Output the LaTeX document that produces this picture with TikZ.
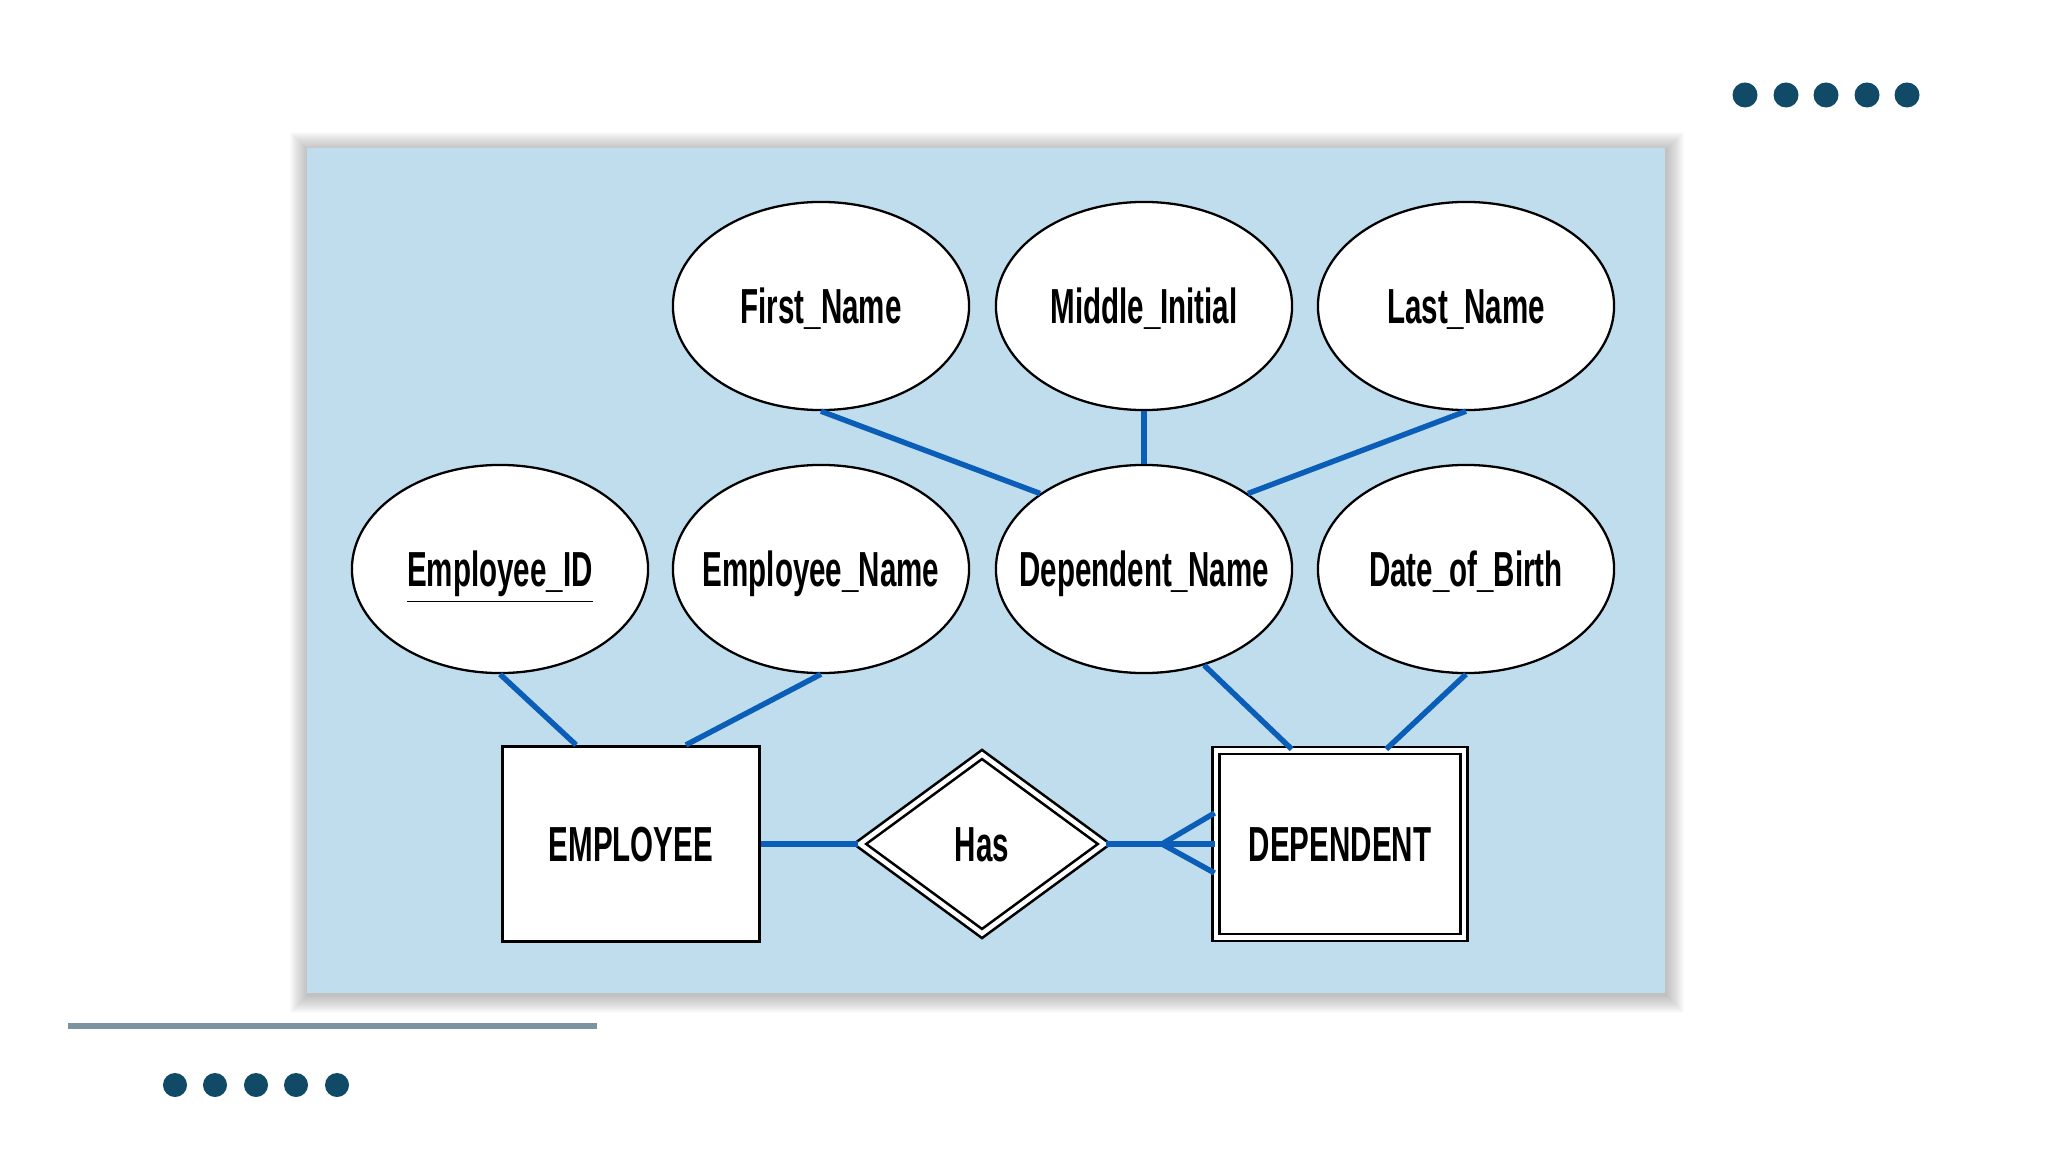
\documentclass[tikz,border=0pt]{standalone}
\usepackage{fontspec}
\setmainfont{Liberation Sans}[FakeStretch=0.6, UprightFont=*-Bold]
\usepackage{tikz}
\usetikzlibrary{positioning}
\usetikzlibrary{shapes.geometric}
\usepackage{xcolor}

\definecolor{panelblue}{RGB}{192,221,237}
\definecolor{linkblue}{RGB}{10,94,184}
\definecolor{dotblue}{RGB}{16,74,102}
\definecolor{rulegray}{RGB}{122,149,160}

\tikzset{
    erfont/.style={font=\fontsize{14}{16}\selectfont, text height=10pt, text depth=0pt},
    attr/.style={ellipse, draw=black, fill=white, line width=0.65pt,
        minimum width=2.96cm, minimum height=2.08cm, inner sep=0pt, erfont,
        execute at begin node={\hbox to 0pt\bgroup\hss},
        execute at end node={\hss\egroup}},
    entity/.style={rectangle, draw=black, fill=white, line width=0.85pt,
        minimum width=2.56cm, minimum height=1.95cm, inner sep=0pt, erfont},
    weakentity/.style={rectangle, draw=black, fill=white, line width=0.75pt,
        double=white, double distance=1.3pt,
        minimum width=2.48cm, minimum height=1.87cm, inner sep=0pt, erfont},
    idrel/.style={diamond, draw=black, fill=white, line width=0.75pt,
        double=white, double distance=1.3pt,
        minimum width=2.45cm, minimum height=1.80cm, inner sep=0pt, erfont},
    link/.style={linkblue, line width=1.55pt}
}

\begin{document}
\begin{tikzpicture}[x=0.01cm, y=-0.01cm]
    \useasboundingbox (0,0) rectangle (2048,1152);

    % Panel with soft shadow
    \foreach \s in {1,...,18}
        \fill[black, opacity=0.016] (307-\s+1,148-\s+2) rectangle (1665+\s+1,993+\s+2);
    \fill[panelblue] (307,148) rectangle (1665,993);

    % Attributes
    \node[attr] (firstname) at (821,306) {First\_Name};
    \node[attr] (midinit) at (1144,306) {Middle\_Initial};
    \node[attr] (lastname) at (1466,306) {Last\_Name};
    \node[attr] (empid) at (500,569) {\underline{Employee\_ID}};
    \node[attr] (empname) at (821,569) {Employee\_Name};
    \node[attr] (depname) at (1144,569) {Dependent\_Name};
    \node[attr] (dob) at (1466,569) {Date\_of\_Birth};

    % Entities and relationship
    \node[entity] (employee) at (631,844) {EMPLOYEE};
    \node[weakentity] (dependent) at (1340,844) {DEPENDENT};
    \node[idrel] (has) at (982,844) {Has};

    % Connectors
    \draw[link] (firstname.south) -- (depname.144);
    \draw[link] (midinit) -- (depname);
    \draw[link] (lastname.south) -- (depname.36);
    \draw[link] (empid.south) -- (employee.119);
    \draw[link] (empname.south) -- (employee.61);
    \draw[link] (depname.-58) -- (dependent.117);
    \draw[link] (dob.south) -- (dependent.64);
    \draw[link] (employee) -- (has);
    \draw[link] (has) -- (dependent);

    % Crow's foot
    \coordinate (fork) at (1162,844);
    \draw[link] (fork) -- ([yshift=0.31cm]dependent.west);
    \draw[link] (fork) -- ([yshift=-0.29cm]dependent.west);

    % Decoration
    \foreach \x in {1745,1786,1826,1867,1907}
        \fill[dotblue] (\x,95) circle (0.125cm);
    \foreach \x in {175,215,256,296,337}
        \fill[dotblue] (\x,1085) circle (0.12cm);
    \draw[rulegray, line width=0.06cm] (68,1026) -- (597,1026);
\end{tikzpicture}
\end{document}
